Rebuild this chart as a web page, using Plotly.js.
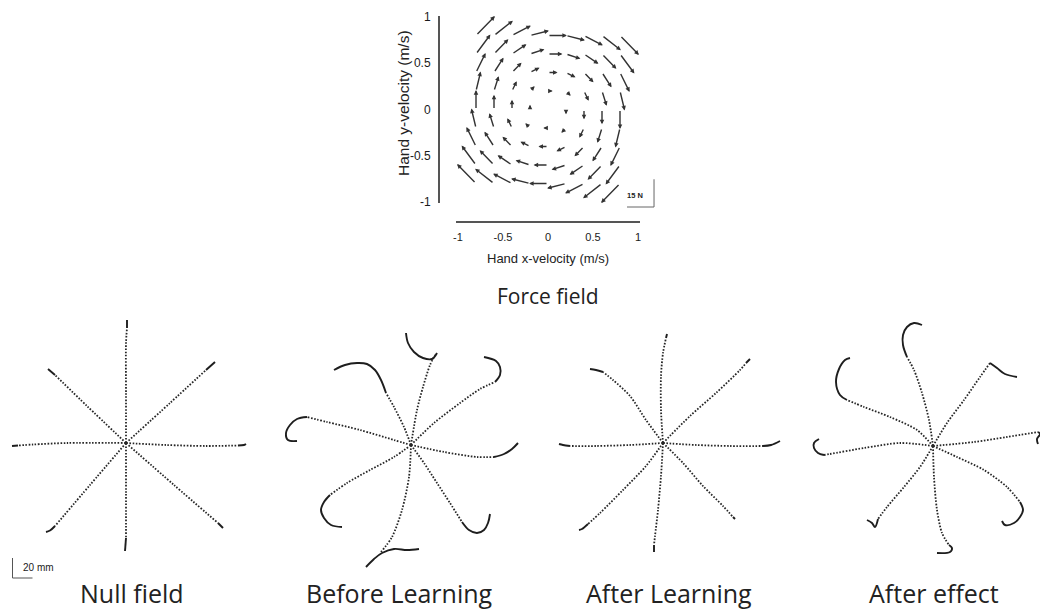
<!DOCTYPE html>
<html>
<head>
<meta charset="utf-8">
<script src="https://cdn.plot.ly/plotly-3.0.1.min.js"></script>
<style>html,body{margin:0;padding:0;background:#fff}</style>
</head>
<body>
<div id="chart" style="width:1040px;height:610px"></div>
<script>
// ---------- Force field: hand velocity grid (m/s) and the force at each node (N) ----------
const gridVelocity = [-0.8, -0.6, -0.4, -0.2, 0, 0.2, 0.4, 0.6, 0.8];
// horizontal force component for each grid row (row = y-velocity)
const forceXByRow = [-10.5, -8, -5.3, -2.6, 0, 2.6, 5.3, 8, 10.5];
// vertical force component for each grid column (column = x-velocity)
const forceYByColumn = [10.5, 8, 5.3, 2.6, 0, -2.6, -5.3, -8, -10.5];
const forceScaleN = 15;
const velocityTicks = [-1, -0.5, 0, 0.5, 1];
const velocityTickText = ['-1', '-0.5', '0', '0.5', '1'];

// ---------- Reaching trajectories (mm, start point at the origin) ----------
// fast outward part (sampled dots) and slow terminal part (solid)
const nullFieldPaths = [
  [[0,0],[0,50],[0,100],[1,115]],
  [[0,0],[44,40],[80,73]],
  [[0,0],[40,-2],[80,-3],[112,-2.5]],
  [[0,0],[48,-42],[92,-80]],
  [[0,0],[0,-50],[0,-95]],
  [[0,0],[-36,-42],[-71,-83]],
  [[0,0],[-59,0],[-93,-1.5],[-108,-2.5]],
  [[0,0],[-39,37],[-71,68]]
];
const nullFieldHooks = [
  [[1,115],[1,123]],
  [[80,73],[89,81]],
  [[112,-2.5],[118,-2],[120,-1]],
  [[92,-80],[97,-85]],
  [[0,-95],[-1,-108]],
  [[-71,-83],[-76,-87.5],[-80,-89]],
  [[-108,-2.5],[-114,-3]],
  [[-71,68],[-78,74]]
];

const beforeLearningPaths = [
  [[0,0],[6,35],[12,58],[19,80],[24,90]],
  [[0,0],[23,22],[49,42],[69,56],[84,63]],
  [[0,0],[33,-7],[66,-12],[83,-12]],
  [[0,0],[13,-18],[26,-38],[39,-58],[51,-77]],
  [[0,0],[-2,-32],[-9,-65],[-19,-92],[-30,-107]],
  [[0,0],[-17,-12],[-41,-25],[-64,-38],[-81,-50]],
  [[0,0],[-17,5],[-51,15],[-84,23],[-104,28]],
  [[0,0],[-7,18],[-17,38],[-25,52]]
];
const beforeLearningHooks = [
  [[26,92],[21,86],[12,87],[3,93],[-3,102],[-5,112]],
  [[84,63],[89,70],[89,78],[85,84],[73,88]],
  [[83,-12],[93,-9],[101,-4],[107,2]],
  [[51,-77],[58,-85],[66,-88],[73,-85],[77,-78],[79,-69]],
  [[-45,-122],[-37,-114],[-29,-108],[-17,-104],[-4,-105],[8,-104]],
  [[-81,-50],[-87,-57],[-90,-65],[-87,-73],[-80,-80],[-69,-82]],
  [[-104,28],[-114,26],[-121,20],[-125,12],[-123,5],[-114,4]],
  [[-25,52],[-30,65],[-36,75],[-44,81],[-54,82],[-66,80],[-77,75]]
];

const afterLearningPaths = [
  [[0,0],[-2,33],[-2,67],[0,90],[3,105]],
  [[0,0],[27,27],[53,50],[77,73],[83,80]],
  [[0,0],[33,-2],[67,-3],[100,-3]],
  [[0,0],[20,-20],[40,-43],[60,-63],[70,-74]],
  [[0,0],[-2,-33],[-5,-67],[-8,-93],[-9,-102]],
  [[0,0],[-17,-23],[-40,-47],[-63,-70],[-75,-81]],
  [[0,0],[-33,-2],[-67,-3],[-93,-3]],
  [[0,0],[-17,23],[-33,47],[-50,63],[-60,71]]
];
const afterLearningHooks = [
  [[3,105],[4,109]],
  [[83,80],[87,84]],
  [[100,-3],[108,-2],[117,2]],
  [[70,-74],[72,-76]],
  [[-9,-102],[-9,-109]],
  [[-75,-81],[-81,-86],[-84,-87]],
  [[-93,-3],[-100,-2],[-104,-1]],
  [[-60,71],[-67,73],[-73,74]]
];

const afterEffectPaths = [
  [[0,0],[-4,26],[-11,53],[-19,76],[-26,89]],
  [[0,0],[14,23],[31,46],[47,69],[57,83]],
  [[0,0],[41,4],[74,9],[105,14]],
  [[0,0],[24,-11],[51,-24],[74,-41],[87,-56]],
  [[0,0],[1,-31],[4,-64],[9,-87],[16,-99]],
  [[0,0],[-13,-21],[-29,-41],[-46,-61],[-55,-73]],
  [[0,0],[-33,3],[-69,-2],[-103,-8],[-109,-9]],
  [[0,0],[-16,16],[-43,29],[-69,39],[-86,46]]
];
const afterEffectHooks = [
  [[-26,89],[-30,101],[-30,111],[-26,119],[-19,123],[-11,121]],
  [[57,83],[64,78],[72,72],[84,69]],
  [[105,14],[107,12],[104,7],[105,2]],
  [[87,-56],[90,-64],[87,-71],[81,-77],[72,-79],[69,-75]],
  [[16,-99],[19,-102],[17,-106],[4,-107]],
  [[-55,-73],[-58,-81],[-61,-77],[-66,-74]],
  [[-109,-9],[-115,-7],[-119,-2],[-119,3],[-114,7]],
  [[-86,46],[-93,51],[-97,64],[-94,77],[-88,86],[-83,88]]
];

const panelTitles = ['Null field', 'Before Learning', 'After Learning', 'After effect'];
const scaleBarMm = 20;

// ---------- page geometry ----------
const W = 1040, H = 610;
const px = p => p / W;          // pixel column -> paper x
const py = p => 1 - p / H;      // pixel row -> paper y

const dotColor = '#262626';
const inkColor = '#1e1e1e';
const arrowUnitsPerN = 0.02;    // arrow length in velocity units per newton
const labelFont = 'Open Sans, DejaVu Sans, sans-serif';
const axisFont = 'Liberation Sans, Arial, sans-serif';

const traces = [];
const annotations = [];

// Force field axes (visible, detached lines)
const fieldAxisStyle = {
  showline: true, linecolor: '#555', linewidth: 1.6,
  showgrid: false, zeroline: false,
  ticks: 'outside', ticklen: 5, tickcolor: 'rgba(0,0,0,0)',
  tickmode: 'array', tickvals: velocityTicks, ticktext: velocityTickText,
  fixedrange: true
};

// placeholder trace so the labelled axes own a subplot
traces.push({
  x: velocityTicks, y: velocityTicks, xaxis: 'x', yaxis: 'y',
  mode: 'markers', marker: {opacity: 0, size: 1}, hoverinfo: 'skip'
});

// force arrows: tail at the velocity node, head displaced by the force
gridVelocity.forEach((vy, r) => {
  gridVelocity.forEach((vx, c) => {
    const fX = forceXByRow[r], fY = forceYByColumn[c];
    if (fX === 0 && fY === 0) return;
    annotations.push({
      xref: 'x6', yref: 'y6', axref: 'x6', ayref: 'y6',
      x: vx + fX * arrowUnitsPerN, y: vy + fY * arrowUnitsPerN,
      ax: vx, ay: vy, text: '', showarrow: true,
      arrowhead: 2, arrowsize: 0.65, arrowwidth: 1.4, arrowcolor: '#333',
      standoff: 0, startstandoff: 0
    });
  });
});

// 15 N scale bar
const barX = 1.178, barY = -1.054;
traces.push({
  x: [barX - forceScaleN * arrowUnitsPerN, barX, barX],
  y: [barY, barY, barY + forceScaleN * arrowUnitsPerN],
  xaxis: 'x6', yaxis: 'y6', mode: 'lines',
  line: {color: '#666', width: 1}, hoverinfo: 'skip'
});
annotations.push({
  xref: 'x6', yref: 'y6', x: 0.967, y: -0.935,
  text: '<b>' + forceScaleN + ' N</b>', showarrow: false,
  font: {family: axisFont, size: 7.5, color: '#222'}
});

// ---------- trajectory panels ----------
const panels = [
  {paths: nullFieldPaths, hooks: nullFieldHooks, cx: 126, cy: 443, x0: 0, x1: 255, tx: 132},
  {paths: beforeLearningPaths, hooks: beforeLearningHooks, cx: 411, cy: 445, x0: 262, x1: 535, tx: 399},
  {paths: afterLearningPaths, hooks: afterLearningHooks, cx: 663, cy: 443, x0: 540, x1: 795, tx: 669},
  {paths: afterEffectPaths, hooks: afterEffectHooks, cx: 933, cy: 446, x0: 800, x1: 1040, tx: 934}
];
const panelTop = 305, panelBottom = 592;

const layout = {
  width: W, height: H,
  margin: {l: 0, r: 0, t: 0, b: 0},
  paper_bgcolor: '#fff', plot_bgcolor: 'rgba(0,0,0,0)',
  showlegend: false,
  font: {family: axisFont, color: '#222'},
  xaxis: Object.assign({}, fieldAxisStyle, {
    domain: [px(456), px(640)], range: [-1.022, 1.022],
    anchor: 'free', position: py(221),
    tickfont: {family: axisFont, size: 11, color: '#1a1a1a'}
  }),
  yaxis: Object.assign({}, fieldAxisStyle, {
    domain: [py(203), py(16)], range: [-1.011, 1.011],
    anchor: 'free', position: px(438),
    tickfont: {family: axisFont, size: 12, color: '#1a1a1a'}
  }),
  xaxis6: {visible: false, domain: [px(440), px(680)], range: [(440 - 548) / 90, (680 - 548) / 90],
           anchor: 'y6', fixedrange: true},
  yaxis6: {visible: false, domain: [py(215), py(5)], range: [(109.5 - 215) / 92.5, (109.5 - 5) / 92.5],
           anchor: 'x6', fixedrange: true},
  annotations: annotations
};

panels.forEach((p, i) => {
  const n = i + 2;
  const xa = 'x' + n, ya = 'y' + n;
  layout['xaxis' + n] = {visible: false, domain: [px(p.x0), px(p.x1)],
    range: [p.x0 - p.cx, p.x1 - p.cx], anchor: ya, fixedrange: true};
  layout['yaxis' + n] = {visible: false, domain: [py(panelBottom), py(panelTop)],
    range: [p.cy - panelBottom, p.cy - panelTop], anchor: xa, fixedrange: true};

  p.paths.forEach(path => {
    traces.push({
      x: path.map(q => q[0]), y: path.map(q => q[1]), xaxis: xa, yaxis: ya,
      mode: 'lines', hoverinfo: 'skip',
      line: {color: dotColor, width: 1.8, dash: '1.6px,1.6px', shape: 'spline', smoothing: 0.8}
    });
  });
  p.hooks.forEach(hook => {
    traces.push({
      x: hook.map(q => q[0]), y: hook.map(q => q[1]), xaxis: xa, yaxis: ya,
      mode: 'lines', hoverinfo: 'skip',
      line: {color: inkColor, width: 1.9, shape: 'spline', smoothing: 1}
    });
  });

  annotations.push({
    xref: 'paper', yref: 'paper', x: px(p.tx), y: py(593),
    xanchor: 'center', yanchor: 'middle', showarrow: false,
    text: panelTitles[i],
    font: {family: labelFont, size: 25, color: '#222'}
  });
});

// 20 mm scale bar in the first panel
const sbX = 12.5 - panels[0].cx, sbY = panels[0].cy - 578;
traces.push({
  x: [sbX, sbX, sbX + scaleBarMm], y: [sbY + scaleBarMm, sbY, sbY],
  xaxis: 'x2', yaxis: 'y2', mode: 'lines',
  line: {color: '#555', width: 1}, hoverinfo: 'skip'
});
annotations.push({
  xref: 'paper', yref: 'paper', x: px(21), y: py(567),
  xanchor: 'left', yanchor: 'middle', showarrow: false,
  text: scaleBarMm + ' mm',
  font: {family: axisFont, size: 10, color: '#222'}
});

// axis titles and the field caption
annotations.push({
  xref: 'paper', yref: 'paper', x: px(548), y: py(258),
  xanchor: 'center', yanchor: 'middle', showarrow: false,
  text: 'Hand x-velocity (m/s)',
  font: {family: axisFont, size: 13, color: '#222'}
});
annotations.push({
  xref: 'paper', yref: 'paper', x: px(403), y: py(103),
  xanchor: 'center', yanchor: 'middle', showarrow: false, textangle: -90,
  text: 'Hand y-velocity (m/s)',
  font: {family: axisFont, size: 15.5, color: '#222'}
});
annotations.push({
  xref: 'paper', yref: 'paper', x: px(548), y: py(296),
  xanchor: 'center', yanchor: 'middle', showarrow: false,
  text: 'Force field',
  font: {family: labelFont, size: 21, color: '#222'}
});

Plotly.newPlot('chart', traces, layout, {staticPlot: true, displayModeBar: false});
</script>
</body>
</html>
